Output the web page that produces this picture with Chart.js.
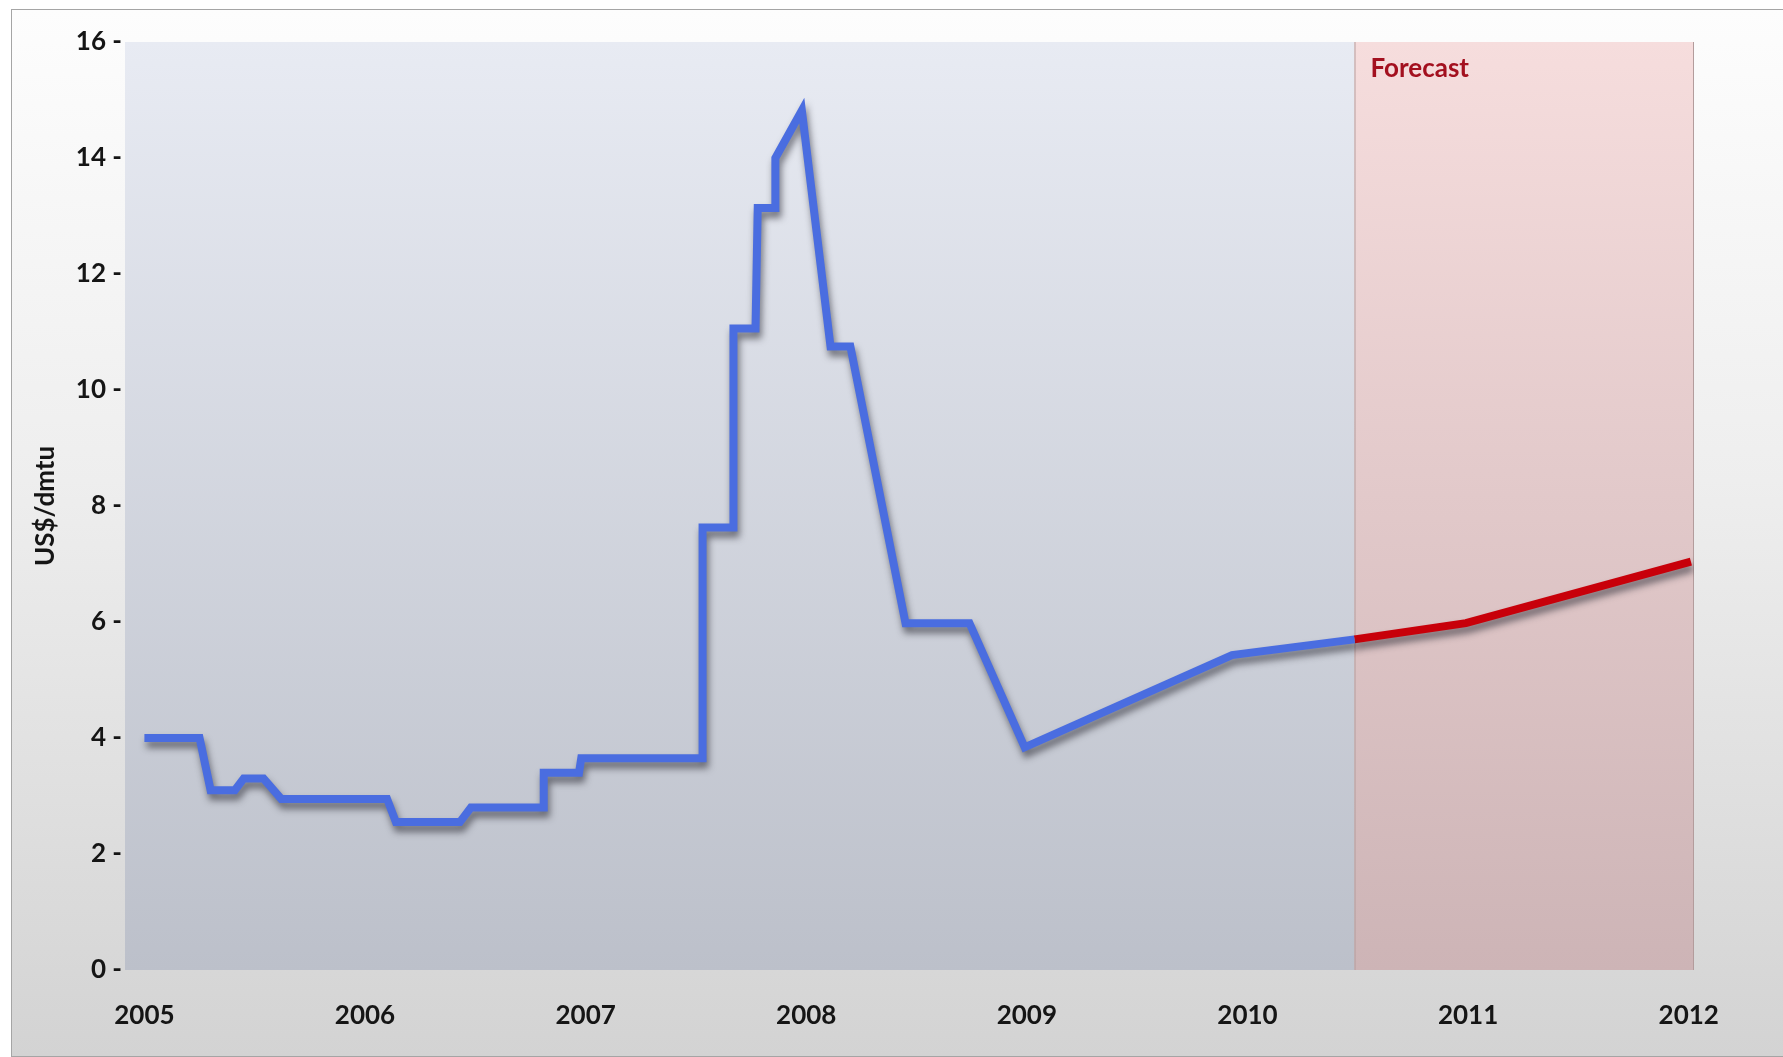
<!DOCTYPE html>
<html>
<head>
<meta charset="utf-8">
<script src="https://cdn.jsdelivr.net/npm/chart.js@4.4.1/dist/chart.umd.min.js"></script>
<style>
    html, body { margin: 0; padding: 0; background: #ffffff; }
    #wrap { position: relative; width: 1783px; height: 1057px; overflow: hidden; }
    #card {
        position: absolute; left: 11px; top: 9px; width: 1790px; height: 1046px;
        border: 1px solid #a5a5a5;
        background: linear-gradient(to bottom, #fdfdfd 0%, #eeeeee 45%, #d3d3d3 100%);
    }
    #chart { position: absolute; left: 0; top: 0; }
</style>
</head>
<body>
<div id="wrap">
    <div id="card"></div>
    <canvas id="chart" width="1783" height="1057"></canvas>
</div>
<script>
// Precio (US$/dmtu) - historico y pronostico
const histYears = [2005.00, 2005.25, 2005.30, 2005.41, 2005.45, 2005.54, 2005.62, 2006.10, 2006.14, 2006.43,
                   2006.48, 2006.81, 2006.81, 2006.97, 2006.98, 2007.53, 2007.53, 2007.67, 2007.67, 2007.77,
                   2007.78, 2007.86, 2007.86, 2007.98, 2008.11, 2008.20, 2008.45, 2008.74, 2008.99, 2009.93, 2010.485];
const histValues = [4.0, 4.0, 3.1, 3.1, 3.3, 3.3, 2.95, 2.95, 2.55, 2.55,
                    2.8, 2.8, 3.4, 3.4, 3.65, 3.65, 7.63, 7.63, 11.06, 11.06,
                    13.14, 13.14, 14.0, 14.82, 10.75, 10.75, 5.98, 5.98, 3.84, 5.43, 5.7];

const forecastYears = [2010.485, 2010.99, 2012.01];
const forecastValues = [5.7, 5.98, 7.04];

const yearTicks = [2005, 2006, 2007, 2008, 2009, 2010, 2011, 2012];
const forecastStart = 2010.485;
const forecastLabel = 'Forecast';
const yTitle = 'US$/dmtu';

const FONT = 'Lato, "Open Sans", sans-serif';

document.addEventListener('DOMContentLoaded', function() {
    const toPoints = (xs, ys) => xs.map((x, i) => ({ x: x, y: ys[i] }));

    // Fondo del area de grafica y banda de pronostico
    const backdrop = {
        id: 'backdrop',
        beforeDatasetsDraw(chart) {
            const { ctx, chartArea: { left, top, right, bottom }, scales: { x } } = chart;
            const xf = x.getPixelForValue(forecastStart);

            ctx.save();
            let g = ctx.createLinearGradient(0, top, 0, bottom);
            g.addColorStop(0, '#e8ebf3');
            g.addColorStop(1, '#bcc0ca');
            ctx.fillStyle = g;
            ctx.fillRect(left, top, xf - left, bottom - top);

            g = ctx.createLinearGradient(0, top, 0, bottom);
            g.addColorStop(0, '#f6dddd');
            g.addColorStop(1, '#cdb4b6');
            ctx.fillStyle = g;
            ctx.fillRect(xf, top, right - xf, bottom - top);

            ctx.strokeStyle = '#b39c9c';
            ctx.lineWidth = 1;
            ctx.beginPath();
            ctx.moveTo(xf + 0.5, top);
            ctx.lineTo(xf + 0.5, bottom);
            ctx.moveTo(right - 0.5, top);
            ctx.lineTo(right - 0.5, bottom);
            ctx.stroke();

            ctx.fillStyle = '#a3101f';
            ctx.font = 'bold 26px ' + FONT;
            ctx.textAlign = 'left';
            ctx.textBaseline = 'middle';
            ctx.fillText(forecastLabel, xf + 16, top + 27);
            ctx.restore();

            // sombra de las lineas
            ctx.save();
            ctx.shadowColor = 'rgba(40, 40, 50, 0.6)';
            ctx.shadowBlur = 7;
            ctx.shadowOffsetX = 2;
            ctx.shadowOffsetY = 6;
        },
        afterDatasetsDraw(chart) {
            chart.ctx.restore();
        }
    };

    new Chart(document.getElementById('chart'), {
        type: 'line',
        data: {
            datasets: [
                {
                    label: 'Historico',
                    data: toPoints(histYears, histValues),
                    borderColor: '#4a6de0',
                    borderWidth: 8,
                    borderJoinStyle: 'miter',
                    pointRadius: 0,
                    tension: 0,
                    fill: false
                },
                {
                    label: 'Pronostico',
                    data: toPoints(forecastYears, forecastValues),
                    borderColor: '#c8000a',
                    borderWidth: 8,
                    borderJoinStyle: 'miter',
                    pointRadius: 0,
                    tension: 0,
                    fill: false
                }
            ]
        },
        options: {
            responsive: false,
            animation: false,
            devicePixelRatio: 1,
            layout: { padding: { left: 28, right: 89, top: 42, bottom: 0 } },
            plugins: {
                legend: { display: false },
                tooltip: { enabled: false }
            },
            scales: {
                x: {
                    type: 'linear',
                    min: 2004.912,
                    max: 2012.024,
                    grid: { display: false, drawTicks: false },
                    border: { display: false },
                    afterBuildTicks: scale => { scale.ticks = yearTicks.map(v => ({ value: v })); },
                    afterFit: scale => { scale.height = 87; },
                    ticks: {
                        padding: 30,
                        maxRotation: 0,
                        autoSkip: false,
                        color: '#151515',
                        font: { family: FONT, size: 26, weight: 'bold' },
                        callback: v => String(v)
                    }
                },
                y: {
                    min: 0,
                    max: 16,
                    grid: { display: false, drawTicks: false },
                    border: { display: false },
                    afterFit: scale => { scale.width = 97; },
                    ticks: {
                        stepSize: 2,
                        padding: 3,
                        color: '#151515',
                        font: { family: FONT, size: 26, weight: 'bold' },
                        callback: v => v + ' -'
                    },
                    title: {
                        display: true,
                        text: yTitle,
                        color: '#151515',
                        padding: { top: 2, bottom: 4 },
                        font: { family: FONT, size: 26, weight: 'bold' }
                    }
                }
            }
        },
        plugins: [backdrop]
    });
});
</script>
</body>
</html>
